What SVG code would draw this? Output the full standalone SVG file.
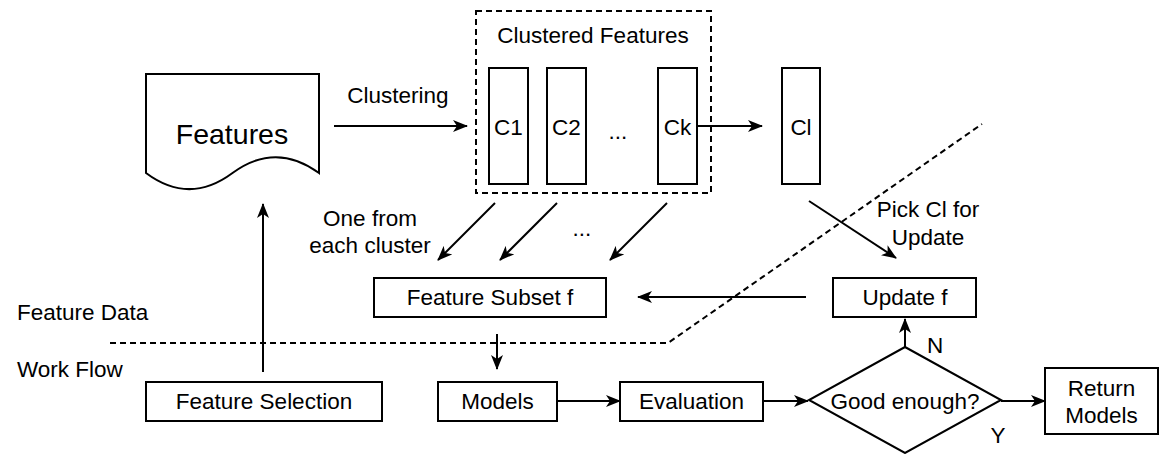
<svg xmlns="http://www.w3.org/2000/svg" width="1166" height="454" viewBox="0 0 1166 454">
<style>
.box{fill:#fff;stroke:#000;stroke-width:2}
.t{font-family:"Liberation Sans",Arial,Helvetica,sans-serif;font-size:22.5px;fill:#000;text-anchor:middle;dominant-baseline:central}
.tl{font-family:"Liberation Sans",Arial,Helvetica,sans-serif;font-size:22.5px;fill:#000;dominant-baseline:central}
.c{fill:none;stroke:#000;stroke-width:2}
.d{fill:none;stroke:#000;stroke-width:2;stroke-dasharray:6 4}
</style>
<defs>
<marker id="ah" viewBox="0 0 15 12" refX="14" refY="6" markerWidth="15" markerHeight="12" markerUnits="userSpaceOnUse" orient="auto">
<path d="M0,0 L15,6 L0,12 L4,6 Z" fill="#000"/>
</marker>
</defs>
<rect width="1166" height="454" fill="#fff"/>

<g id="dividers">
<path class="d" d="M110,343 L668,343 L982,124"/>
</g>

<g id="labels">
<text class="tl" x="17" y="312">Feature Data</text>
<text class="tl" x="17" y="369">Work Flow</text>
</g>

<g id="features">
<path class="box" d="M146,74 L319,74 L319,173 Q275.75,141.3 232.5,173 Q189.25,205.2 146,173 Z"/>
<text class="t" x="232" y="134" style="font-size:28.5px">Features</text>
</g>

<g id="clustered-features">
<rect x="476" y="11" width="235" height="182" fill="none" stroke="#000" stroke-width="2" stroke-dasharray="6 4"/>
<text class="t" x="593" y="35">Clustered Features</text>
</g>
<g id="c1"><rect class="box" x="489" y="68" width="39" height="116"/><text class="t" x="508.5" y="127">C1</text></g>
<g id="c2"><rect class="box" x="547" y="68" width="39" height="116"/><text class="t" x="566.5" y="127">C2</text></g>
<g id="dots1"><text class="t" x="618" y="131">...</text></g>
<g id="ck"><rect class="box" x="658" y="68" width="39" height="116"/><text class="t" x="677.5" y="127">Ck</text></g>
<g id="cl"><rect class="box" x="782" y="68" width="38" height="116"/><text class="t" x="801" y="127">Cl</text></g>

<g id="feature-subset"><rect class="box" x="374" y="278" width="232" height="39"/><text class="t" x="490" y="297">Feature Subset f</text></g>
<g id="update-f"><rect class="box" x="833" y="278" width="143" height="39"/><text class="t" x="905" y="297">Update f</text></g>
<g id="feature-selection"><rect class="box" x="146" y="382" width="236" height="39"/><text class="t" x="264" y="401">Feature Selection</text></g>
<g id="models"><rect class="box" x="438" y="382" width="119" height="39"/><text class="t" x="497.5" y="401">Models</text></g>
<g id="evaluation"><rect class="box" x="620" y="382" width="143" height="39"/><text class="t" x="691.5" y="401">Evaluation</text></g>
<g id="good-enough"><path class="box" d="M905,347 L1001,400 L905,453 L809,400 Z"/><text class="t" x="905" y="401">Good enough?</text></g>
<g id="return-models"><rect class="box" x="1045" y="368" width="113" height="66"/><text class="t" x="1101.5" y="388">Return</text><text class="t" x="1101.5" y="415">Models</text></g>

<g id="connectors">
<path class="c" marker-end="url(#ah)" d="M334,126 L467,126"/>
<text class="t" x="398" y="95">Clustering</text>
<path class="c" marker-end="url(#ah)" d="M697,126 L762,126"/>
<path class="c" marker-end="url(#ah)" d="M495,203 L438,260"/>
<path class="c" marker-end="url(#ah)" d="M557,203 L500,260"/>
<path class="c" marker-end="url(#ah)" d="M667,203 L610,260"/>
<text class="t" x="370" y="218">One from</text>
<text class="t" x="370" y="245">each cluster</text>
<text class="t" x="582" y="228">...</text>
<path class="c" marker-end="url(#ah)" d="M809,201 L896,258"/>
<text class="t" x="928" y="209">Pick Cl for</text>
<text class="t" x="928" y="237">Update</text>
<path class="c" marker-end="url(#ah)" d="M806,297 L638,297"/>
<path class="c" marker-end="url(#ah)" d="M263,372 L263,204"/>
<path class="c" marker-end="url(#ah)" d="M497,334 L497,369"/>
<path class="c" marker-end="url(#ah)" d="M557,401 L620,401"/>
<path class="c" marker-end="url(#ah)" d="M763,401 L808,401"/>
<path class="c" marker-end="url(#ah)" d="M905,347 L905,319"/>
<text class="t" x="935" y="345">N</text>
<path class="c" marker-end="url(#ah)" d="M1001,401 L1045,401"/>
<text class="t" x="998" y="435">Y</text>
</g>
</svg>
